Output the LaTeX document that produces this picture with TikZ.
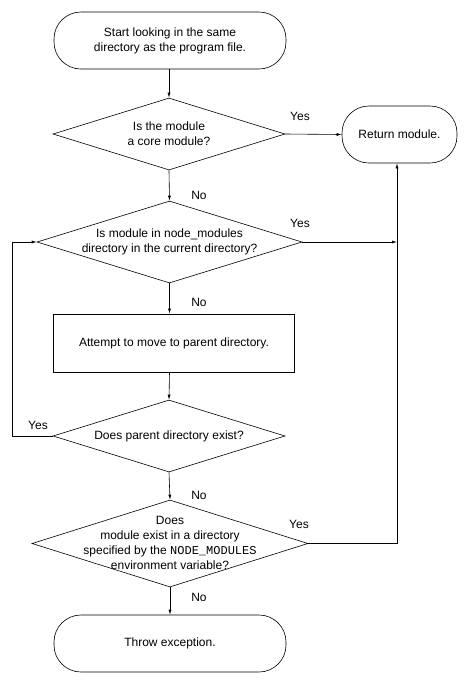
\documentclass[tikz,border=0pt]{standalone}
\usepackage{fontspec}
\setmainfont{Liberation Sans}
\setmonofont{Liberation Mono}
\usetikzlibrary{shapes.geometric,arrows.meta}
\begin{document}
\begin{tikzpicture}[x=1pt,y=1pt,
  font=\fontsize{12}{15}\selectfont,
  line width=0.6pt,
  terminal/.style={draw, rectangle, rounded corners=27pt, minimum width=232pt, minimum height=57pt, inner sep=0pt, align=center},
  decision/.style={draw, diamond, minimum width=#1, inner sep=0pt},
  procbox/.style={draw, rectangle, minimum width=241pt, minimum height=58pt, inner sep=0pt, align=center},
  txt/.style={align=center, inner sep=0pt},
  lbl/.style={inner sep=0pt},
  arr/.style={-{Latex[length=5pt,width=3pt]}}
]
\useasboundingbox (0,0) rectangle (464,-681);

\node[terminal] (start) at (170,-40.5) {Start looking in the same\\directory as the program file.};

\node[decision=232pt, minimum height=72pt] (d1) at (169,-134) {};
\node[txt] (t1) at (d1) {Is the module\\a core module?};

\node[terminal, minimum width=115pt, rounded corners=27pt] (ret) at (399.5,-134.5) {Return module.};

\node[decision=265pt, minimum height=82pt] (d2) at (169.5,-242) {};
\node[txt] (t2) at (d2) {Is module in node\_modules\\directory in the current directory?};

\node[procbox] (move) at (174,-343) {Attempt to move to parent directory.};

\node[decision=232pt, minimum height=72pt] (d3) at (169,-436) {};
\node[txt] (t3) at (d3) {Does parent directory exist?};

\node[decision=276pt, minimum height=87pt] (d4) at (170,-543.5) {};
\node[txt] (t4) at ([yshift=1pt]d4) {Does\\module exist in a directory\\specified by the \texttt{NODE\_MODULES}\\environment variable?};

\node[terminal] (throw) at (170,-643.5) {Throw exception.};

% connectors
\draw[arr] (start.south -| d1.north) -- (d1.north);
\draw[arr] (d1.east) -- (ret.west);
\draw[arr] (d1.south) -- (d2.north);
\draw[arr] (d2.south) -- (d2.south |- move.north);
\draw[arr] (d2.south |- move.south) -- (d3.north);
\draw[arr] (d3.west) -- ++(-40,0) |- (d2.west);
\draw[arr] (d3.south) -- (d4.north);
\draw[arr] (d4.south) -- (throw.north);
\coordinate (rx) at (397,0);
\draw[arr] (d4.east) -| (rx |- ret.south);
\draw[arr] (d2.east) -- (rx |- d2.east);

% labels
\node[lbl] (y1) at (300,-116) {Yes};
\node[lbl] (y2) at (300,-223) {Yes};
\node[lbl] (y3) at (38,-425) {Yes};
\node[lbl] (y4) at (299,-524) {Yes};
\node[lbl] (n1) at (199,-195) {No};
\node[lbl] (n2) at (199,-302) {No};
\node[lbl] (n3) at (199,-495) {No};
\node[lbl] (n4) at (199,-597) {No};
\end{tikzpicture}
\end{document}
